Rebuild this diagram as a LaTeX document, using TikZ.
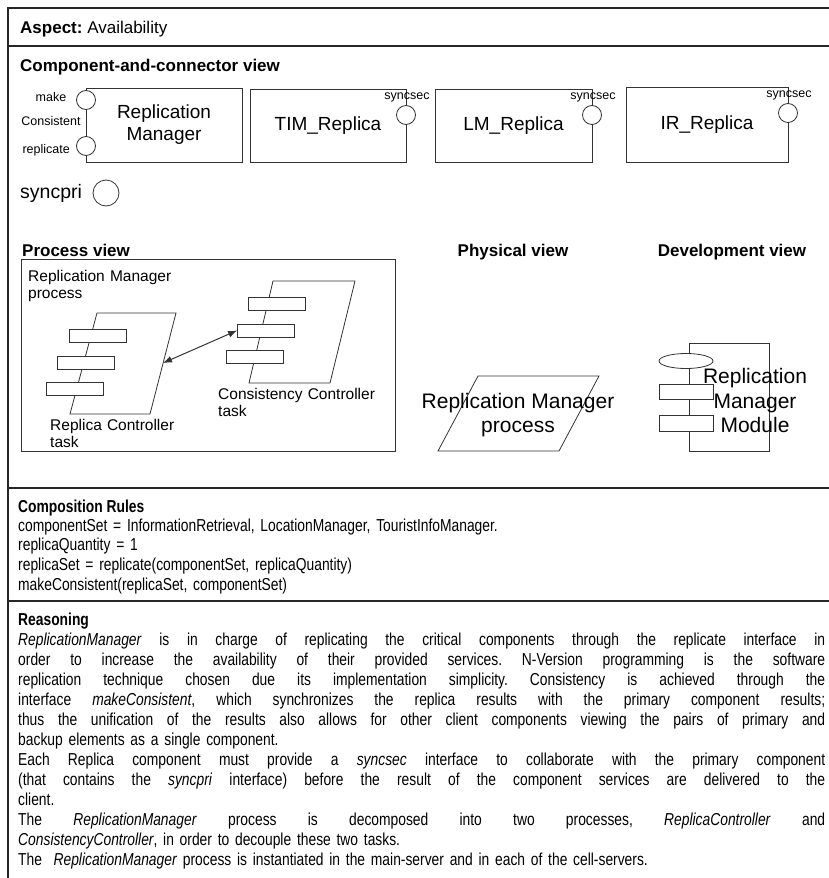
\documentclass[tikz,border=0pt]{standalone}
\usepackage{fontspec}
\setmainfont{Liberation Sans}
\newfontfamily\narrowsans[FakeStretch=0.80]{Liberation Sans}
\usetikzlibrary{arrows.meta,calc,shapes.geometric}
\frenchspacing

% width of the justified reasoning paragraph
\newlength\reasonwd
\setlength\reasonwd{807pt}
% one fully justified line of a paragraph (font spaces are allowed to stretch)
\newcommand{\jline}[1]{{\spaceskip=0pt\xspaceskip=0pt\makebox[\reasonwd][s]{#1}}\\}

\begin{document}
\begin{tikzpicture}[x=1pt,y=-1pt,
  sepline/.style={draw=black!85, line width=1.1pt},
  outl/.style={draw=black!80, line width=0.8pt},
  comp/.style={outl, rectangle, inner sep=0pt, align=center,
    font=\fontsize{19}{22}\selectfont},
  port/.style={outl, circle, fill=white, minimum size=19pt, inner sep=0pt},
  lbl/.style={inner sep=0pt, font=\fontsize{12.5}{14}\selectfont},
  head/.style={inner sep=0pt, anchor=base west, font=\fontsize{17}{20}\selectfont\bfseries},
  chead/.style={head, anchor=base},
  nhead/.style={inner sep=0pt, anchor=base west, font=\narrowsans\fontsize{17.3}{20}\selectfont\bfseries},
  bar/.style={outl, rectangle, fill=white, inner sep=0pt, minimum width=57pt, minimum height=13pt},
  plab/.style={inner sep=0pt, anchor=base west, align=left, text width=190pt,
    font=\fontsize{15.5}{17}\selectfont},
  big/.style={inner sep=0pt, align=center, font=\fontsize{21}{24}\selectfont},
  body/.style={inner sep=0pt, anchor=base west,
    font=\narrowsans\fontsize{17.3}{19.7}\selectfont},
]
\useasboundingbox (0,0) rectangle (829,878);

% frame and section rules
\draw[sepline] (8,878) -- (8,8) -- (829,8);
\draw[sepline] (8,46) -- (829,46);
\draw[sepline] (8,488) -- (829,488);
\draw[sepline] (8,601) -- (829,601);

\node[head] (aspect) at (20,33) {Aspect: {\mdseries Availability}};

% ---------- component-and-connector view
\node[head] (ccv) at (20,71) {Component-and-connector view};

\node[comp, minimum width=156pt, minimum height=74pt] (rm) at (164,125) {Replication\\Manager};
\node[comp, minimum width=156pt, minimum height=73pt] (tim) at (328,125.5) {TIM\_Replica};
\node[comp, minimum width=157pt, minimum height=73pt] (lm) at (513.5,125.5) {LM\_Replica};
\node[comp, minimum width=162pt, minimum height=75pt] (ir) at (707,124.5) {IR\_Replica};

\node[port] (mc)   at (86,100) {};
\node[port] (rep)  at (86,146) {};
\node[port] (timp) at (406,115) {};
\node[port] (lmp)  at (592,115) {};
\node[port] (irp)  at (788,113) {};

\node[lbl, align=center, font=\fontsize{12.5}{24}\selectfont] (mclbl) at (51,109) {make\\Consistent};
\node[lbl, anchor=east] (replbl) at (70,150) {replicate};
\node[lbl] (timlbl) at ($(timp)+(1,-18)$) {syncsec};
\node[lbl] (lmlbl)  at ($(lmp)+(1,-18)$) {syncsec};
\node[lbl] (irlbl)  at ($(irp)+(1,-18)$) {syncsec};

\node[inner sep=0pt, anchor=west, font=\fontsize{19.5}{22}\selectfont] (sp) at (20,193) {syncpri};
\node[outl, circle, minimum size=26pt, inner sep=0pt] (spp) at (106,193) {};

% ---------- process view
\node[head] (pvh) at (22,256) {Process view};
\node[outl, rectangle, minimum width=374pt, minimum height=192pt, anchor=north west,
  inner sep=0pt] (pvbox) at (21,259) {};
\node[plab] (rmp) at (28,281) {Replication Manager\\process};

% replica controller task
\draw[outl] (97,313) -- (176,313) -- (150,414) -- (70,414) -- cycle;
\node[bar] (rc1) at (97.5,335.5) {};
\node[bar] (rc2) at (86,362.5) {};
\node[bar] (rc3) at (75,389) {};
\coordinate (rcedge) at (163,363);
\node[plab] (rct) at (50,430) {Replica Controller\\task};

% consistency controller task
\draw[outl] (273,281) -- (355,281) -- (330,383) -- (249,383) -- cycle;
\node[bar] (cc1) at (277,304) {};
\node[bar] (cc2) at (266,330.5) {};
\node[bar] (cc3) at (255,356.5) {};
\node[plab] (cct) at (218,399) {Consistency Controller\\task};

\draw[outl, line width=1pt, {Latex[length=9pt,width=7pt]}-{Latex[length=9pt,width=7pt]}]
  (rcedge) -- (cc2.west);

% ---------- physical view
\node[chead] (phh) at (513,256) {Physical view};
\draw[outl] (478,376) -- (599,376) -- (559,451) -- (438,451) -- cycle;
\node[big] (rmproc) at (518,415) {Replication Manager\\process};

% ---------- development view
\node[chead] (dvh) at (732,256) {Development view};
\node[outl, rectangle, minimum width=80pt, minimum height=108pt, anchor=north west,
  inner sep=0pt] (mod) at (689,343) {};
\node[outl, ellipse, fill=white, minimum width=54pt, minimum height=15pt, inner sep=0pt]
  (modell) at (686,361) {};
\node[bar, minimum width=54pt, minimum height=15pt] (mb1) at (686,391.5) {};
\node[bar, minimum width=54pt, minimum height=16pt] (mb2) at (686,423) {};
\node[big, font=\fontsize{21}{24.5}\selectfont] (modtxt) at (755,400.5)
  {Replication\\Manager\\Module};

% ---------- composition rules
\node[nhead] (crh) at (18,512) {Composition Rules};
\node[body, text width=800pt] (crtext) at (18,531)
  {componentSet = InformationRetrieval, LocationManager, TouristInfoManager.\\
   replicaQuantity = 1\\
   replicaSet = replicate(componentSet, replicaQuantity)\\
   makeConsistent(replicaSet, componentSet)};

% ---------- reasoning
\node[nhead] (rsh) at (18,625) {Reasoning};
\node[body, text width=\reasonwd, font=\narrowsans\fontsize{17.3}{20}\selectfont]
  (rstext) at (18,645)
  {\jline{\textit{ReplicationManager} is in charge of replicating the critical components through the replicate interface in}
   \jline{order to increase the availability of their provided services. N-Version programming is the software}
   \jline{replication technique chosen due its implementation simplicity. Consistency is achieved through the}
   \jline{interface \textit{makeConsistent}, which synchronizes the replica results with the primary component results;}
   \jline{thus the unification of the results also allows for other client components viewing the pairs of primary and}
   backup elements as a single component.\\
   \jline{Each Replica component must provide a \textit{syncsec} interface to collaborate with the primary component}
   \jline{(that contains the \textit{syncpri} interface) before the result of the component services are delivered to the}
   client.\\
   \jline{The \textit{ReplicationManager} process is decomposed into two processes, \textit{ReplicaController} and}
   \textit{ConsistencyController}, in order to decouple these two tasks.\\
   The\ \ \textit{ReplicationManager} process is instantiated in the main-server and in each of the cell-servers.};
\end{tikzpicture}
\end{document}
